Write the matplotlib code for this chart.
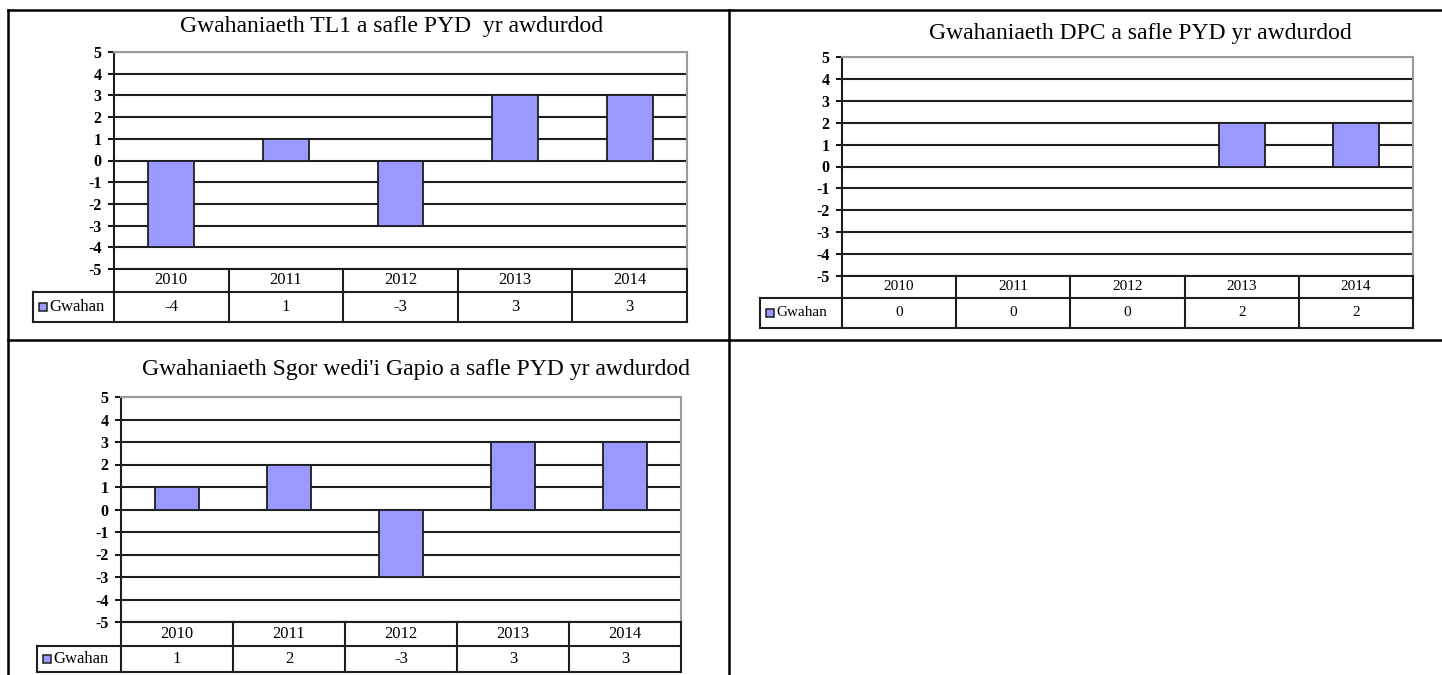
import numpy as np
import matplotlib
matplotlib.use('Agg')
import matplotlib.pyplot as plt
from matplotlib import transforms
from matplotlib.lines import Line2D

# data
years = ['2010', '2011', '2012', '2013', '2014']
series_name = 'Gwahan'
tl1_vals = [-4, 1, -3, 3, 3]
dpc_vals = [0, 0, 0, 2, 2]
sgor_vals = [1, 2, -3, 3, 3]
tl1_title = 'Gwahaniaeth TL1 a safle PYD  yr awdurdod'
dpc_title = 'Gwahaniaeth DPC a safle PYD yr awdurdod'
sgor_title = "Gwahaniaeth Sgor wedi'i Gapio a safle PYD yr awdurdod"

plt.rcParams['font.family'] = ['Liberation Serif', 'DejaVu Serif']
plt.rcParams['axes.unicode_minus'] = False

W, H = 1442, 675
fig = plt.figure(figsize=(W / 100, H / 100), dpi=100)

BAR = '#9999ff'
DARK = '#1e1e1e'


def fx(px):
    return px / W


def fy(py):
    return 1 - py / H


def frame_line(x0, y0, x1, y1):
    fig.add_artist(Line2D([fx(x0), fx(x1)], [fy(y0), fy(y1)],
                          transform=fig.transFigure, color='black', lw=1.8))


def draw_chart(vals, title, box, tsize=12):
    # box in pixels: plot left/right/top/bottom, table row bottoms, legend cell left, title pos
    L, R, T, B, r1, r2, legL, tx, ty = box
    ax = fig.add_axes([fx(L), fy(B), (R - L) / W, (B - T) / H])
    x = np.arange(len(years))
    ax.bar(x, vals, width=0.4, color=BAR, edgecolor=DARK, linewidth=1.3, zorder=2)
    ax.set_xlim(-0.5, len(years) - 0.5)
    ax.set_ylim(-5, 5)
    ax.set_yticks(np.arange(-5, 6))
    ax.set_xticks([])
    ax.grid(axis='y', color=DARK, lw=1.5)
    ax.set_axisbelow(True)
    ax.tick_params(axis='y', direction='out', length=4, width=1.3, pad=5,
                   labelsize=11.5, colors='black')
    for lbl in ax.get_yticklabels():
        lbl.set_fontweight('bold')
    ax.spines['left'].set_color(DARK)
    ax.spines['left'].set_linewidth(1.5)
    ax.spines['bottom'].set_color(DARK)
    ax.spines['bottom'].set_linewidth(1.5)
    ax.spines['top'].set_color('#9a9a9a')
    ax.spines['right'].set_color('#9a9a9a')
    ax.spines['top'].set_linewidth(1.5)
    ax.spines['right'].set_linewidth(1.5)

    # data table under the plot
    h = B - T
    y1 = -(r1 - B) / h
    y2 = -(r2 - B) / h
    xl = (legL - L) / (R - L)
    tab = dict(transform=ax.transAxes, color=DARK, lw=1.5, clip_on=False)
    ax.plot([xl, 1], [y1, y1], **tab)
    ax.plot([xl, 1], [y2, y2], **tab)
    ax.plot([xl, xl], [y1, y2], **tab)
    for i in range(len(years) + 1):
        ax.plot([i / len(years)] * 2, [0, y2], **tab)
    blend = transforms.blended_transform_factory(ax.transData, ax.transAxes)
    for xi, yr, v in zip(x, years, vals):
        ax.text(xi, y1 / 2, yr, transform=blend, ha='center', va='center', fontsize=tsize)
        ax.text(xi, (y1 + y2) / 2, str(v), transform=blend, ha='center', va='center',
                fontsize=tsize)
    ax.plot([xl + 10 / (R - L)], [(y1 + y2) / 2], marker='s', ms=6, mfc=BAR, mec=DARK,
            mew=1.1, transform=ax.transAxes, clip_on=False)
    ax.text(xl + 16 / (R - L), (y1 + y2) / 2, series_name, transform=ax.transAxes,
            ha='left', va='center', fontsize=tsize)

    fig.text(fx(tx), fy(ty), title, ha='center', va='baseline', fontsize=17)


# outer table-like frame
frame_line(8, 10, 1442, 10)
frame_line(8, 340, 1442, 340)
frame_line(8, 10, 8, 675)
frame_line(729, 10, 729, 675)

draw_chart(tl1_vals, tl1_title, (114, 687, 52, 269, 292, 322, 33, 392, 32))
draw_chart(dpc_vals, dpc_title, (842, 1413, 57, 276, 298, 328, 760, 1140, 39), tsize=11)
draw_chart(sgor_vals, sgor_title, (121, 681, 397, 622, 646, 672, 37, 416, 375))

plt.savefig('out.png', dpi=100)
